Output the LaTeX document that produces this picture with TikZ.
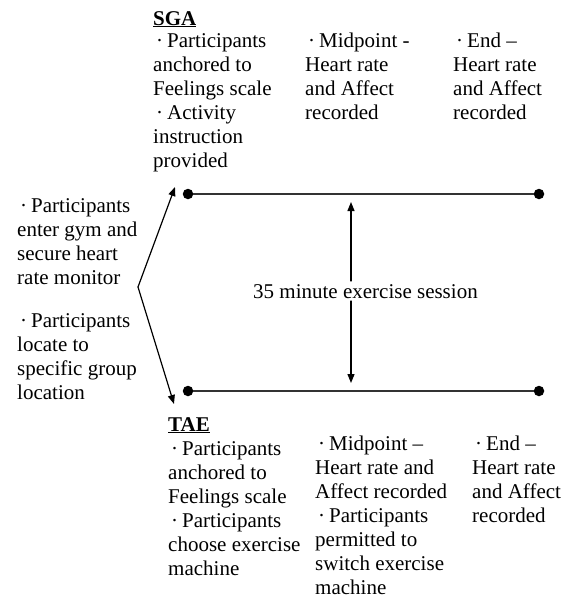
\documentclass[tikz,border=0pt]{standalone}
\usepackage{fontspec}
\setmainfont{Liberation Serif}
\usetikzlibrary{arrows.meta}
\newcommand{\bul}{\hspace{3pt}·\hspace{4pt}}
\newcommand{\col}[1]{\begin{tabular}[t]{@{}l@{}}#1\end{tabular}}
\begin{document}
\begin{tikzpicture}[x=1pt,y=-1pt,
  txt/.style={anchor=base west,inner sep=0pt,font=\fontsize{21}{24}\selectfont},
  dotnode/.style={circle,fill=black,inner sep=0pt,minimum size=10.5pt},
  tl/.style={line width=1.5pt,black!80},
  arr/.style={line width=1.2pt,line cap=round,-{Triangle[length=9pt,width=7pt]}}]
\useasboundingbox (0,0) rectangle (569,600);
% headings
\node[txt] (sga) at (153,25) {\underline{\textbf{SGA}}};
\node[txt] (tae) at (168,431) {\underline{\textbf{TAE}}};
% top columns
\node[txt] (sg1) at (153,47) {\col{\bul Participants\\anchored to\\Feelings scale\\\bul Activity\\instruction\\provided}};
\node[txt] (sg2) at (305,47) {\col{\bul Midpoint -\\Heart rate\\and Affect\\recorded}};
\node[txt] (sg3) at (453,47) {\col{\bul End –\\Heart rate\\and Affect\\recorded}};
% bottom columns
\node[txt] (ta1) at (168,455) {\col{\bul Participants\\anchored to\\Feelings scale\\\bul Participants\\choose exercise\\machine}};
\node[txt] (ta2) at (315,450) {\col{\bul Midpoint –\\Heart rate and\\Affect recorded\\\bul Participants\\permitted to\\switch exercise\\machine}};
\node[txt] (ta3) at (472,450) {\col{\bul End –\\Heart rate\\and Affect\\recorded}};
% left texts
\node[txt] (l1) at (17,212) {\col{\bul Participants\\enter gym and\\secure heart\\rate monitor}};
\node[txt] (l2) at (17,327) {\col{\bul Participants\\locate to\\specific group\\location}};
% timelines
\node[dotnode] (s1) at (188,194) {};
\node[dotnode] (s2) at (539,194) {};
\node[dotnode] (t1) at (188,391) {};
\node[dotnode] (t2) at (539,391) {};
\draw[tl] (s1) -- (s2);
\draw[tl] (t1) -- (t2);
% branching arrows
\coordinate (v) at (138,287);
\coordinate (up) at (175,187);
\coordinate (dn) at (174,404);
\draw[arr] (v) -- (up);
\draw[arr] (v) -- (dn);
% session label and double arrow
\node[txt] (lab) at (253,298) {35 minute exercise session};
\coordinate (a1) at (351,281);
\coordinate (a2) at (351,202);
\coordinate (b1) at (351,301);
\coordinate (b2) at (351,383);
\draw[arr] (a1) -- (a2);
\draw[arr] (b1) -- (b2);
\end{tikzpicture}
\end{document}
